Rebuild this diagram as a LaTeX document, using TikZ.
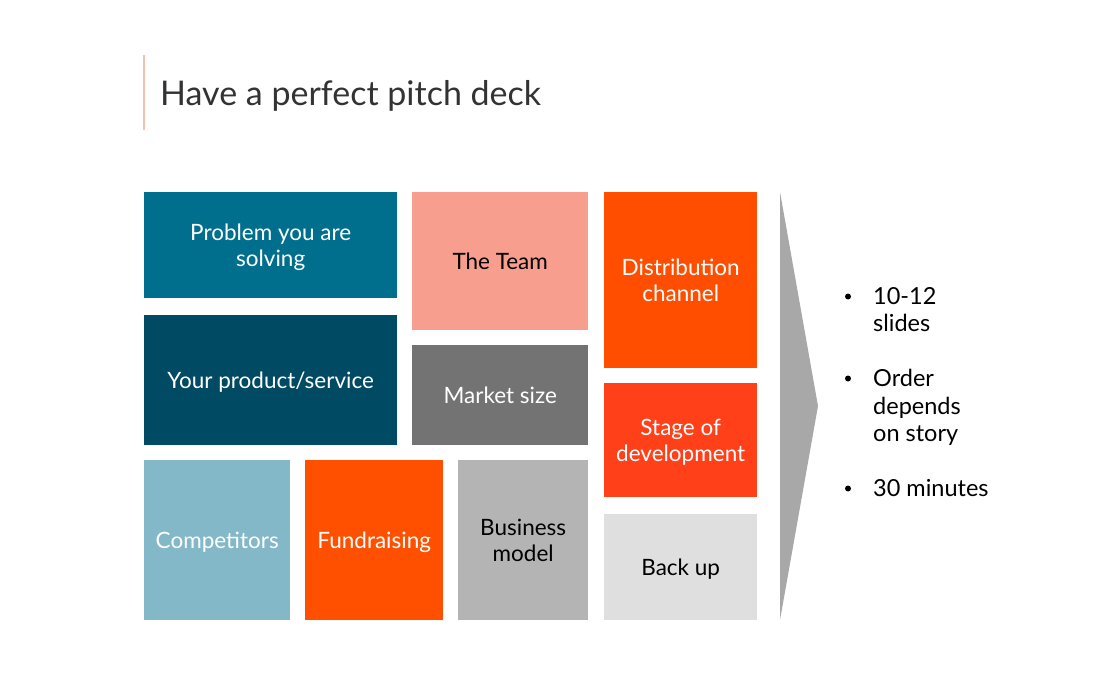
\documentclass[tikz,border=0pt]{standalone}
\usepackage{fontspec}
\setmainfont{Lato}
\begin{document}
\begin{tikzpicture}[x=1pt,y=-1pt,
  tile/.style={anchor=north west,inner sep=0pt,align=center,text depth=0pt,font=\fontsize{22.5}{26}\selectfont,text=white},
  darktext/.style={text=black},
  bullet/.style={anchor=north west,inner sep=0pt,align=left,font=\fontsize{23.5}{27.5}\selectfont,text=black}]
\definecolor{cProblem}{HTML}{006F8E}
\definecolor{cProduct}{HTML}{004A63}
\definecolor{cTeam}{HTML}{F89E8E}
\definecolor{cMarket}{HTML}{737373}
\definecolor{cDistrib}{HTML}{FF4E00}
\definecolor{cStage}{HTML}{FF4018}
\definecolor{cBackup}{HTML}{DFDFDF}
\definecolor{cCompet}{HTML}{83B8C8}
\definecolor{cFund}{HTML}{FF5000}
\definecolor{cBusiness}{HTML}{B4B4B4}
\definecolor{cChevron}{HTML}{A8A8A8}
\definecolor{cAccent}{HTML}{F4C0B0}
\definecolor{cTitle}{HTML}{333333}
\useasboundingbox (0,0) rectangle (1098,698);
% title with accent bar
\coordinate (accTop) at (144,55);
\coordinate (accBot) at (144,130);
\draw[cAccent,line width=1.2pt] (accTop) -- (accBot);
\node[anchor=west,inner sep=0pt,text=cTitle,font=\fontsize{34}{40}\selectfont] (title) at (160,96) {Have a perfect pitch deck};
% tiles
\node[tile,fill=cProblem,minimum width=253,minimum height=106] (problem) at (144,192) {Problem you are\\solving};
\node[tile,fill=cProduct,minimum width=253,minimum height=130] (product) at (144,315) {Your product/service};
\node[tile,darktext,fill=cTeam,minimum width=176,minimum height=138] (team) at (412,192) {The Team};
\node[tile,fill=cMarket,minimum width=176,minimum height=100] (market) at (412,345) {Market size};
\node[tile,fill=cDistrib,minimum width=153,minimum height=176] (distrib) at (604,192) {Distribution\\channel};
\node[tile,fill=cStage,minimum width=153,minimum height=114] (stage) at (604,383) {Stage of\\development};
\node[tile,darktext,fill=cBackup,minimum width=153,minimum height=106] (backup) at (604,514) {Back up};
\node[tile,fill=cCompet,minimum width=146,minimum height=160] (compet) at (144,460) {Competitors};
\node[tile,fill=cFund,minimum width=138,minimum height=160] (fund) at (305,460) {Fundraising};
\node[tile,darktext,fill=cBusiness,minimum width=130,minimum height=160] (business) at (458,460) {Business\\model};
% chevron
\coordinate (chevTop) at (780,192);
\coordinate (chevTip) at (818,406);
\coordinate (chevBot) at (780,620);
\fill[cChevron] (chevTop) -- (chevTip) -- (chevBot) -- cycle;
% bullet list
\node[bullet] (b1) at (873,287) {10-12\\slides};
\node[bullet] (b2) at (873,369) {Order\\depends\\on story};
\node[bullet] (b3) at (873,479) {30 minutes};
\foreach \b in {b1,b2,b3}
  \fill[black] ([xshift=-25pt,yshift=-9.5pt]\b.north west) circle (3pt);
\end{tikzpicture}
\end{document}
